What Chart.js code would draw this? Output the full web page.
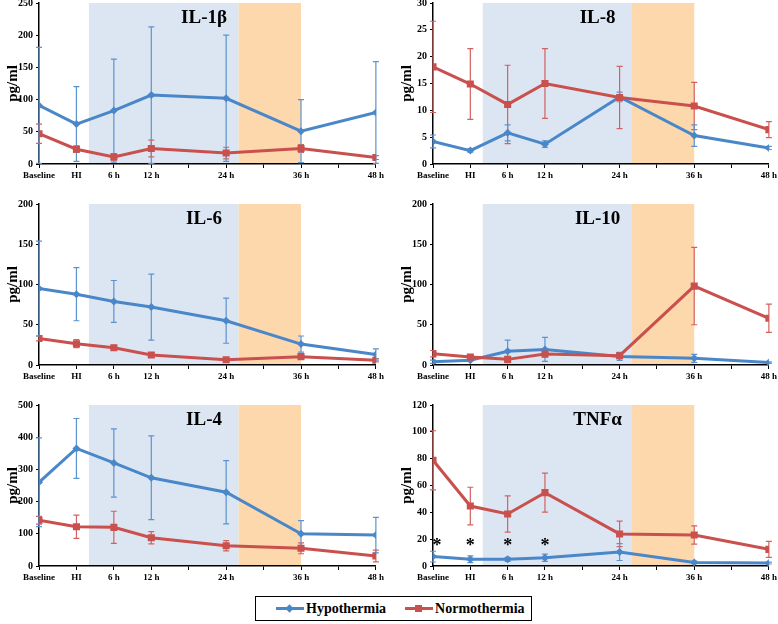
<!DOCTYPE html>
<html>
<head>
<meta charset="utf-8">
<script src="https://cdn.jsdelivr.net/npm/chart.js@4.4.0/dist/chart.umd.min.js"></script>
<style>
    html, body { margin: 0; padding: 0; background: #fff; width: 778px; height: 624px; overflow: hidden; }
    canvas { position: absolute; }
    #legend {
        position: absolute; left: 255px; top: 596px; width: 275px; height: 23px;
        border: 1.5px solid #000; display: flex; align-items: center;
        font: bold 14px "Liberation Serif", "Times New Roman", serif; color: #000;
    }
    .item { display: flex; align-items: center; margin-left: 19px; }
    .item:first-child { margin-left: 20px; }
    .mark { position: relative; width: 28px; height: 3px; margin-right: 2px; }
    .mark i { position: absolute; left: 10px; top: -2px; width: 7px; height: 7px; }
</style>
</head>
<body>
<canvas id="c0"></canvas>
<canvas id="c1"></canvas>
<canvas id="c2"></canvas>
<canvas id="c3"></canvas>
<canvas id="c4"></canvas>
<canvas id="c5"></canvas>
<div id="legend"></div>

<script>
// Time axis: Baseline = -6 h, HI = 0 h
const timePoints = [-6, 0, 6, 12, 24, 36, 48];
const timeLabels = ['Baseline', 'HI', '6 h', '12 h', '24 h', '36 h', '48 h'];
const tickValues = [-6, 0, 6, 12, 18, 24, 30, 36, 42, 48];
const tickLabels = ['Baseline', 'HI', '6 h', '12 h', '', '24 h', '', '36 h', '', '48 h'];

const seriesNames = ['Hypothermia', 'Normothermia'];

// cooling and rewarming windows (hours)
const coolingPeriod = [2, 26];
const rewarmPeriod = [26, 36];

// IL-1β
const il1bHypo = [91, 62, 83, 107, 102, 51, 80];
const il1bHypoErr = [90, 58, 80, 106, 98, 49, 79];
const il1bNormo = [47, 23, 11, 24, 17, 24, 10];
const il1bNormoErr = [15, 5, 5, 13, 9, 6, 3];

// IL-8
const il8Hypo = [4.2, 2.5, 5.8, 3.7, 12.5, 5.3, 3.0];
const il8HypoErr = [1.2, 0.3, 1.5, 0.6, 0.9, 2.0, 0.3];
const il8Normo = [18.1, 14.9, 11.1, 15.0, 12.4, 10.8, 6.4];
const il8NormoErr = [8.5, 6.6, 7.3, 6.5, 5.8, 4.4, 1.5];

// IL-6
const il6Hypo = [95, 88, 79, 72, 55, 26, 13];
const il6HypoErr = [59, 33, 26, 41, 28, 10, 7];
const il6Normo = [33, 26.5, 21.5, 12.4, 6.6, 10.4, 5.8];
const il6NormoErr = [3, 5, 3, 3, 2, 2, 2];

// IL-10
const il10Hypo = [4, 6, 17, 19.4, 10.7, 8.3, 3];
const il10HypoErr = [2, 1, 14, 15, 5, 5, 1];
const il10Normo = [14, 10, 7, 13.6, 11.6, 98, 58];
const il10NormoErr = [4, 3, 2, 4, 3, 48, 17.5];

// IL-4
const il4Hypo = [260, 365, 320, 274, 229, 100, 96];
const il4HypoErr = [138, 93, 106, 130, 98, 41, 55];
const il4Normo = [142, 122, 120, 88, 63, 55, 31];
const il4NormoErr = [12, 36, 50, 19, 16, 17, 18];

// TNFα
const tnfHypo = [7, 5, 5, 6.2, 10.4, 2.7, 2.2];
const tnfHypoErr = [4, 2.5, 1.5, 2.7, 6.3, 1, 0.7];
const tnfNormo = [78.8, 44.7, 38.8, 54.7, 23.9, 23.1, 12.4];
const tnfNormoErr = [22, 14, 13.5, 14.5, 9.5, 6.8, 6];
const tnfSignificant = [-6, 0, 6, 12];   // time points marked with *

const COLORS = {
    hypo: '#4a87c9',
    hypoErr: '#5b93d0',
    normo: '#c9504d',
    normoErr: '#d2625f',
    cool: '#dce6f2',
    warm: '#fcd8ac'
};
const SERIF = '"Liberation Serif", "Times New Roman", serif';

const panels = [
    { title: 'IL-1β', max: 250, step: 50, hypo: il1bHypo, hypoErr: il1bHypoErr, normo: il1bNormo, normoErr: il1bNormoErr },
    { title: 'IL-8', max: 30, step: 5, hypo: il8Hypo, hypoErr: il8HypoErr, normo: il8Normo, normoErr: il8NormoErr },
    { title: 'IL-6', max: 200, step: 50, hypo: il6Hypo, hypoErr: il6HypoErr, normo: il6Normo, normoErr: il6NormoErr },
    { title: 'IL-10', max: 200, step: 50, hypo: il10Hypo, hypoErr: il10HypoErr, normo: il10Normo, normoErr: il10NormoErr },
    { title: 'IL-4', max: 500, step: 100, hypo: il4Hypo, hypoErr: il4HypoErr, normo: il4Normo, normoErr: il4NormoErr },
    { title: 'TNFα', max: 120, step: 20, hypo: tnfHypo, hypoErr: tnfHypoErr, normo: tnfNormo, normoErr: tnfNormoErr, stars: tnfSignificant }
];

// plot-area geometry of the grid
const Y_AXIS_W = 39, PAD_TOP = 12, X_AXIS_H = 22, PAD_RIGHT = 10;
const colLeft = [39, 433], colWidth = [337, 336];
const rowTop = [3, 204, 405], rowHeight = 161;

/**
 * Shaded cooling / rewarming backgrounds
 */
const shadePlugin = {
    id: 'shade',
    beforeDraw(chart) {
        const { ctx, chartArea, scales } = chart;
        const x = scales.x;
        ctx.save();
        ctx.fillStyle = COLORS.cool;
        ctx.fillRect(x.getPixelForValue(coolingPeriod[0]), chartArea.top,
            x.getPixelForValue(coolingPeriod[1]) - x.getPixelForValue(coolingPeriod[0]), chartArea.height);
        ctx.fillStyle = COLORS.warm;
        ctx.fillRect(x.getPixelForValue(rewarmPeriod[0]), chartArea.top,
            x.getPixelForValue(rewarmPeriod[1]) - x.getPixelForValue(rewarmPeriod[0]), chartArea.height);
        ctx.restore();
    }
};

/**
 * Error bars (mean ± error, clipped at zero)
 */
const errorBarPlugin = {
    id: 'errorBars',
    beforeDatasetsDraw(chart) {
        const { ctx, scales } = chart;
        chart.data.datasets.forEach(ds => {
            if (!ds.errors) return;
            ctx.save();
            ctx.strokeStyle = ds.errorColor;
            ctx.lineWidth = 1.2;
            ds.data.forEach((pt, i) => {
                const x = scales.x.getPixelForValue(pt.x);
                const top = scales.y.getPixelForValue(pt.y + ds.errors[i]);
                const bot = scales.y.getPixelForValue(Math.max(0, pt.y - ds.errors[i]));
                ctx.beginPath();
                ctx.moveTo(x, top); ctx.lineTo(x, bot);
                ctx.moveTo(x - 3, top); ctx.lineTo(x + 3, top);
                ctx.moveTo(x - 3, bot); ctx.lineTo(x + 3, bot);
                ctx.stroke();
            });
            ctx.restore();
        });
    }
};

/**
 * Panel title and significance marks
 */
const labelPlugin = {
    id: 'panelLabel',
    afterDatasetsDraw(chart, args, opts) {
        const { ctx, chartArea, scales } = chart;
        ctx.save();
        ctx.fillStyle = '#000';
        ctx.textAlign = 'center';
        ctx.textBaseline = 'middle';
        ctx.font = 'bold 19px ' + SERIF;
        ctx.fillText(opts.title, chartArea.left + chartArea.width * 0.49, chartArea.top + 15);
        if (opts.stars) {
            ctx.font = 'bold 18px ' + SERIF;
            opts.stars.forEach(t => {
                const x = Math.max(scales.x.getPixelForValue(t), chartArea.left + 4);
                ctx.fillText('*', x, scales.y.getPixelForValue(15));
            });
        }
        ctx.restore();
    }
};

function toPoints(values) {
    return values.map((v, i) => ({ x: timePoints[i], y: v }));
}

function createPanel(p, idx) {
    const col = idx % 2, row = Math.floor(idx / 2);
    const canvas = document.getElementById('c' + idx);
    canvas.width = Y_AXIS_W + colWidth[col] + PAD_RIGHT;
    canvas.height = PAD_TOP + rowHeight + X_AXIS_H;
    canvas.style.left = (colLeft[col] - Y_AXIS_W) + 'px';
    canvas.style.top = (rowTop[row] - PAD_TOP) + 'px';

    new Chart(canvas, {
        type: 'line',
        data: {
            datasets: [{
                label: seriesNames[1],
                data: toPoints(p.normo),
                errors: p.normoErr,
                errorColor: COLORS.normoErr,
                borderColor: COLORS.normo,
                backgroundColor: COLORS.normo,
                borderWidth: 3,
                pointStyle: 'rect',
                pointRadius: 5,
                pointBorderWidth: 0,
                order: 1
            }, {
                label: seriesNames[0],
                data: toPoints(p.hypo),
                errors: p.hypoErr,
                errorColor: COLORS.hypoErr,
                borderColor: COLORS.hypo,
                backgroundColor: COLORS.hypo,
                borderWidth: 3,
                pointStyle: 'rectRot',
                pointRadius: 4,
                pointBorderWidth: 0,
                order: 2
            }]
        },
        options: {
            responsive: false,
            animation: false,
            layout: { padding: { top: PAD_TOP, right: PAD_RIGHT, left: 0, bottom: 0 } },
            plugins: {
                legend: { display: false },
                tooltip: { enabled: false },
                panelLabel: { title: p.title, stars: p.stars }
            },
            scales: {
                x: {
                    type: 'linear',
                    min: -6,
                    max: 48,
                    afterFit: scale => { scale.height = X_AXIS_H; },
                    afterBuildTicks: scale => { scale.ticks = tickValues.map(v => ({ value: v })); },
                    ticks: {
                        autoSkip: false,
                        maxRotation: 0,
                        padding: 2,
                        color: '#000',
                        font: { family: SERIF, size: 9, weight: 'bold' },
                        callback: value => tickLabels[tickValues.indexOf(value)]
                    },
                    grid: { drawOnChartArea: false, tickLength: 4, tickColor: '#000', tickWidth: 1 },
                    border: { color: '#000', width: 1.5 }
                },
                y: {
                    min: 0,
                    max: p.max,
                    afterFit: scale => { scale.width = Y_AXIS_W; },
                    ticks: {
                        stepSize: p.step,
                        padding: 3,
                        color: '#000',
                        font: { family: SERIF, size: 10, weight: 'bold' }
                    },
                    grid: { drawOnChartArea: false, tickLength: 3, tickColor: '#000', tickWidth: 1 },
                    border: { color: '#000', width: 1.5 },
                    title: {
                        display: true,
                        text: 'pg/ml',
                        color: '#000',
                        padding: { top: 4, bottom: 0 },
                        font: { family: SERIF, size: 15, weight: 'bold' }
                    }
                }
            }
        },
        plugins: [shadePlugin, errorBarPlugin, labelPlugin]
    });
}

/**
 * Shared legend under the grid
 */
function buildLegend() {
    const legend = document.getElementById('legend');
    const marks = [
        { name: seriesNames[0], color: COLORS.hypo, shape: 'transform: rotate(45deg) scale(0.85);' },
        { name: seriesNames[1], color: COLORS.normo, shape: '' }
    ];
    legend.innerHTML = marks.map(m => `
        <span class="item">
            <span class="mark" style="background:${m.color}"><i style="background:${m.color};${m.shape}"></i></span>
            <span>${m.name}</span>
        </span>`).join('');
}

panels.forEach(createPanel);
buildLegend();
</script>
</body>
</html>
